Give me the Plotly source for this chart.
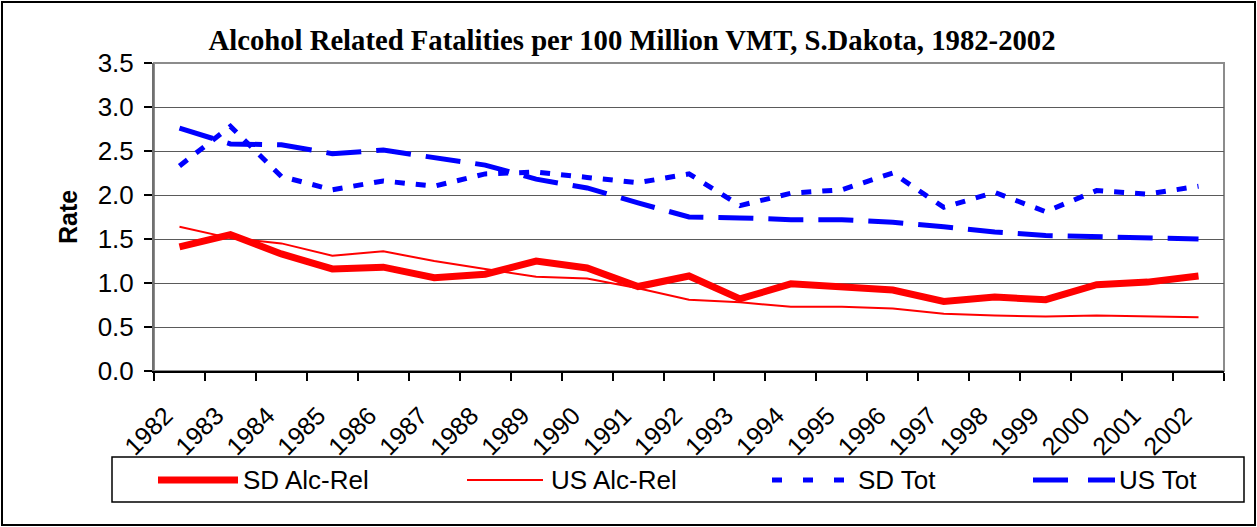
import plotly.graph_objects as go

# Rates per 100 million vehicle miles travelled
years = [str(y) for y in range(1982, 2003)]
sd_alc_rel = [1.41, 1.55, 1.33, 1.16, 1.18, 1.06, 1.10, 1.25, 1.17, 0.96, 1.08,
              0.82, 0.99, 0.95, 0.92, 0.79, 0.84, 0.81, 0.98, 1.01, 1.08]
us_alc_rel = [1.64, 1.51, 1.45, 1.31, 1.36, 1.25, 1.16, 1.07, 1.05, 0.94, 0.81,
              0.78, 0.73, 0.73, 0.71, 0.65, 0.63, 0.62, 0.63, 0.62, 0.61]
sd_tot = [2.33, 2.78, 2.21, 2.06, 2.16, 2.10, 2.24, 2.26, 2.20, 2.14, 2.24,
          1.88, 2.02, 2.06, 2.25, 1.86, 2.03, 1.81, 2.05, 2.01, 2.10]
us_tot = [2.76, 2.58, 2.57, 2.47, 2.51, 2.42, 2.34, 2.18, 2.08, 1.91, 1.75,
          1.74, 1.72, 1.72, 1.69, 1.64, 1.58, 1.54, 1.53, 1.51, 1.50]
y_ticks = [0.0, 0.5, 1.0, 1.5, 2.0, 2.5, 3.0, 3.5]

W, H = 1257, 527
L, R, T, B = 154, 33, 63, 156
PW, PH = W - L - R, H - T - B

RED = "#FF0000"
BLUE = "#0000FF"
SD_TOT_DASH = "10px,11px"
US_TOT_DASH = "35px,15px"
SERIES = [
    ("SD Alc-Rel", sd_alc_rel, RED, 7, "solid"),
    ("US Alc-Rel", us_alc_rel, RED, 2, "solid"),
    ("SD Tot", sd_tot, BLUE, 5, SD_TOT_DASH),
    ("US Tot", us_tot, BLUE, 5, US_TOT_DASH),
]


def px_x(p):
    return (p - L) / PW


def px_y(p):
    return (H - B - p) / PH


fig = go.Figure()
for name, vals, color, width, dash in SERIES:
    fig.add_trace(go.Scatter(
        x=years, y=vals, name=name, mode="lines",
        line=dict(color=color, width=width, dash=dash),
        showlegend=False,
    ))

shapes = []
# plot area frame (top and right edges are lighter than the axes)
shapes.append(dict(type="rect", xref="paper", yref="paper", x0=0, x1=1, y0=0, y1=1,
                   line=dict(color="#8C8C8C", width=2), layer="below"))
# outer chart border
shapes.append(dict(type="rect", xref="paper", yref="paper",
                   x0=px_x(2), x1=px_x(1255), y0=px_y(525), y1=px_y(2),
                   line=dict(color="black", width=2)))
# legend box
shapes.append(dict(type="rect", xref="paper", yref="paper",
                   x0=px_x(112), x1=px_x(1244), y0=px_y(502), y1=px_y(457),
                   line=dict(color="black", width=1.5), fillcolor="white"))

legend_y = px_y(480)
legend_items = [
    # name, line start, line end, text start
    ("SD Alc-Rel", 158, 238, 241),
    ("US Alc-Rel", 467, 543, 549),
    ("SD Tot", 772, 844, 856),
    ("US Tot", 1033, 1115, 1117),
]
annotations = []
for (name, x0, x1, tx), (_, _, color, width, dash) in zip(legend_items, SERIES):
    ldash = "35px,20px" if dash == US_TOT_DASH else ("10px,21px" if dash == SD_TOT_DASH else "solid")
    shapes.append(dict(type="line", xref="paper", yref="paper",
                       x0=px_x(x0), x1=px_x(x1), y0=legend_y, y1=legend_y,
                       line=dict(color=color, width=width, dash=ldash)))
    annotations.append(dict(xref="paper", yref="paper", x=px_x(tx), y=legend_y,
                            text=name, showarrow=False, xanchor="left", yanchor="middle",
                            font=dict(family="Liberation Sans, Arial", size=26, color="black")))

annotations.append(dict(xref="paper", yref="paper", x=px_x(68), y=px_y(217),
                        text="<b>Rate</b>", textangle=-90, showarrow=False,
                        xanchor="center", yanchor="middle",
                        font=dict(family="Liberation Sans, Arial", size=25, color="black")))

fig.update_layout(
    width=W, height=H,
    margin=dict(l=L, r=R, t=T, b=B, pad=0),
    paper_bgcolor="white", plot_bgcolor="white",
    title=dict(
        text="<b>Alcohol Related Fatalities per 100 Million VMT, S.Dakota, 1982-2002</b>",
        x=px_x(632), xref="paper", xanchor="center",
        y=1 - 40 / H, yref="container", yanchor="middle",
        font=dict(family="Liberation Serif, Times New Roman", size=28.7, color="black"),
    ),
    showlegend=False,
    shapes=shapes,
    annotations=annotations,
    xaxis=dict(
        type="category", range=[-0.5, len(years) - 0.5],
        tickson="boundaries", ticks="outside", ticklen=8, tickwidth=1.5, tickcolor="black",
        showgrid=False, showline=True, linecolor="black", linewidth=2,
        tickangle=-45, ticklabelstandoff=18, ticklabelshift=-14,
        tickfont=dict(family="Liberation Sans, Arial", size=25, color="black"),
        zeroline=False,
    ),
    yaxis=dict(
        range=[0, 3.5], tickvals=y_ticks, ticktext=[f"{v:.1f}" for v in y_ticks],
        ticks="outside", ticklen=8, tickwidth=1.5, tickcolor="black",
        showgrid=True, gridcolor="#5A5A5A", gridwidth=1,
        showline=True, linecolor="#707070", linewidth=2,
        ticklabelstandoff=5,
        tickfont=dict(family="Liberation Sans, Arial", size=26, color="black"),
        zeroline=False,
    ),
)

fig.write_html("out.html")
